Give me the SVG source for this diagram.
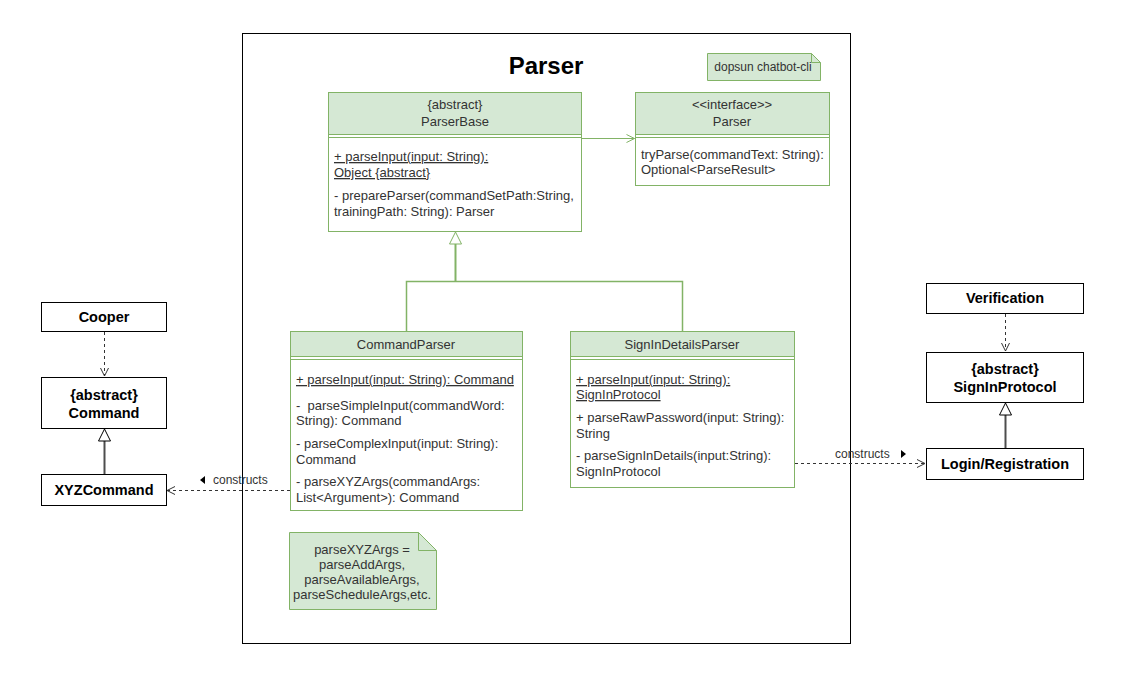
<svg xmlns="http://www.w3.org/2000/svg" width="1135" height="681" viewBox="0 0 1135 681">
<style>
text{font-family:"Liberation Sans",Arial,sans-serif;font-size:13px;fill:#333}
.c{text-anchor:middle}
.b{font-weight:bold;font-size:14.5px;fill:#000}
.u{text-decoration:underline}
.g{fill:#d5e8d4;stroke:#82b366;stroke-width:1}
.w{fill:#fff;stroke:#82b366;stroke-width:1}
.k{fill:#fff;stroke:#000;stroke-width:1}
.gl{stroke:#82b366;stroke-width:1;fill:none}
.dash{stroke:#333;stroke-width:1;stroke-dasharray:3,3;fill:none}
.inh{stroke:#4d4d4d;stroke-width:2;fill:none}
</style>
<defs>
<marker id="open" markerWidth="10" markerHeight="10" refX="9" refY="5" orient="auto" markerUnits="userSpaceOnUse">
<path d="M1,1 L9,5 L1,9" fill="none" stroke="#333" stroke-width="1"/>
</marker>
<marker id="openg" markerWidth="10" markerHeight="10" refX="9" refY="5" orient="auto" markerUnits="userSpaceOnUse">
<path d="M1,1 L9,5 L1,9" fill="none" stroke="#82b366" stroke-width="1"/>
</marker>
</defs>
<rect width="1135" height="681" fill="#fff"/>
<g id="frame">
<rect x="242.5" y="33.5" width="608" height="610" fill="none" stroke="#000"/>
<text x="546" y="74" class="c" style="font-size:24px;font-weight:bold;fill:#000">Parser</text>
</g>
<g id="note-dopsun">
<path class="g" d="M707.5,53.5 H811.5 L820.5,62.5 V80.5 H707.5 Z"/>
<path class="gl" d="M811.5,53.5 V62.5 H820.5"/>
<text x="763" y="71" class="c" style="font-size:12px">dopsun chatbot-cli</text>
</g>
<g id="ParserBase">
<rect class="w" x="328.5" y="92.5" width="253" height="139"/>
<rect class="g" x="328.5" y="92.5" width="253" height="42"/>
<line class="gl" x1="328.5" y1="137.5" x2="581.5" y2="137.5"/>
<text x="455" y="109" class="c">{abstract}</text>
<text x="455" y="126" class="c">ParserBase</text>
<text x="334" y="161" class="u">+ parseInput(input: String): </text>
<text x="334" y="177" class="u">Object {abstract}</text>
<text x="334" y="200">- prepareParser(commandSetPath:String,</text>
<text x="334" y="216">trainingPath: String): Parser</text>
</g>
<g id="ParserInterface">
<rect class="w" x="635.5" y="92.5" width="194" height="93"/>
<rect class="g" x="635.5" y="92.5" width="194" height="42"/>
<line class="gl" x1="635.5" y1="137.5" x2="829.5" y2="137.5"/>
<text x="732" y="109" class="c">&lt;&lt;interface&gt;&gt;</text>
<text x="732" y="126" class="c">Parser</text>
<text x="641" y="159">tryParse(commandText: String):</text>
<text x="641" y="174">Optional&lt;ParseResult&gt;</text>
</g>
<g id="CommandParser">
<rect class="w" x="290.5" y="331.5" width="232" height="179"/>
<rect class="g" x="290.5" y="331.5" width="232" height="25"/>
<line class="gl" x1="290.5" y1="359.5" x2="522.5" y2="359.5"/>
<text x="406" y="349" class="c">CommandParser</text>
<text x="296" y="384" class="u">+ parseInput(input: String): Command</text>
<text x="296" y="410">-&#160; parseSimpleInput(commandWord:</text>
<text x="296" y="425">String): Command</text>
<text x="296" y="448">- parseComplexInput(input: String):</text>
<text x="296" y="464">Command</text>
<text x="296" y="486">- parseXYZArgs(commandArgs:</text>
<text x="296" y="502">List&lt;Argument&gt;): Command</text>
</g>
<g id="SignInDetailsParser">
<rect class="w" x="570.5" y="331.5" width="224" height="156"/>
<rect class="g" x="570.5" y="331.5" width="224" height="25"/>
<line class="gl" x1="570.5" y1="359.5" x2="794.5" y2="359.5"/>
<text x="682" y="349" class="c">SignInDetailsParser</text>
<text x="576" y="384" class="u">+ parseInput(input: String):</text>
<text x="576" y="399" class="u">SignInProtocol</text>
<text x="576" y="422">+ parseRawPassword(input: String):</text>
<text x="576" y="438">String</text>
<text x="576" y="460">- parseSignInDetails(input:String):</text>
<text x="576" y="476">SignInProtocol</text>
</g>
<g id="note-xyz">
<path class="g" d="M289.5,532.5 H418.5 L436.5,550.5 V609.5 H289.5 Z"/>
<path class="gl" d="M418.5,532.5 V550.5 H436.5"/>
<text x="362" y="554" class="c">parseXYZArgs =</text>
<text x="362" y="569" class="c">parseAddArgs,</text>
<text x="362" y="584" class="c">parseAvailableArgs,</text>
<text x="362" y="599" class="c">parseScheduleArgs,etc.</text>
</g>
<g id="Cooper">
<rect class="k" x="41.5" y="302.5" width="125" height="29"/>
<text x="104" y="322" class="c b">Cooper</text>
</g>
<g id="Command">
<rect class="k" x="41.5" y="377.5" width="125" height="51"/>
<text x="104" y="400" class="c b">{abstract}</text>
<text x="104" y="418" class="c b">Command</text>
</g>
<g id="XYZCommand">
<rect class="k" x="41.5" y="474.5" width="125" height="31"/>
<text x="104" y="495" class="c b">XYZCommand</text>
</g>
<g id="Verification">
<rect class="k" x="926.5" y="283.5" width="157" height="30"/>
<text x="1005" y="303" class="c b">Verification</text>
</g>
<g id="SignInProtocol">
<rect class="k" x="926.5" y="352.5" width="157" height="50"/>
<text x="1005" y="374" class="c b">{abstract}</text>
<text x="1005" y="392" class="c b">SignInProtocol</text>
</g>
<g id="LoginRegistration">
<rect class="k" x="926.5" y="448.5" width="157" height="31"/>
<text x="1005" y="469" class="c b">Login/Registration</text>
</g>
<g id="connectors">
<line class="gl" x1="581.5" y1="138.5" x2="634.5" y2="138.5" marker-end="url(#openg)"/>
<path d="M406.5,331 V281.5 H682.5 V331" fill="none" stroke="#82b366" stroke-width="1.5"/>
<line x1="455.5" y1="281.5" x2="455.5" y2="244" stroke="#82b366" stroke-width="2"/>
<path d="M455.5,232 L461.5,244 H449.5 Z" fill="#fff" stroke="#82b366" stroke-width="1"/>
<line class="dash" x1="104.5" y1="332" x2="104.5" y2="376" marker-end="url(#open)"/>
<line class="inh" x1="104.5" y1="474" x2="104.5" y2="441"/>
<path d="M104.5,429 L110.5,441 H98.5 Z" fill="#fff" stroke="#000" stroke-width="1"/>
<line class="dash" x1="290" y1="490.5" x2="167" y2="490.5" marker-end="url(#open)"/>
<path d="M200,480 L205,476 V484 Z" fill="#000"/>
<text x="213" y="484" style="font-size:12px">constructs</text>
<line class="dash" x1="1005.5" y1="314" x2="1005.5" y2="351" marker-end="url(#open)"/>
<line class="inh" x1="1005.5" y1="448" x2="1005.5" y2="415"/>
<path d="M1005.5,403 L1011.5,415 H999.5 Z" fill="#fff" stroke="#000" stroke-width="1"/>
<line class="dash" x1="795" y1="463.5" x2="925" y2="463.5" marker-end="url(#open)"/>
<text x="835" y="458" style="font-size:12px">constructs</text>
<path d="M906,454 L901,450 V458 Z" fill="#000"/>
</g>
</svg>
